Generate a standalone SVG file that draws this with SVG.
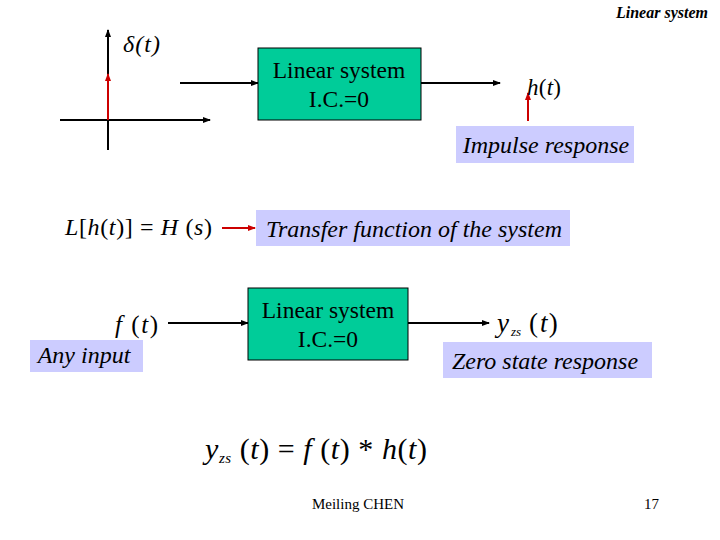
<svg xmlns="http://www.w3.org/2000/svg" width="720" height="540" viewBox="0 0 720 540">
<style>
.t{font-family:'Liberation Serif','Times New Roman','DejaVu Serif',serif;fill:#000}
.i{font-style:italic}
.bt{font-size:23.5px}
.lt{font-size:24px;font-style:italic}
.box{fill:#00CC99;stroke:#000;stroke-width:1}
.lab{fill:#CCCCFF}
.ln{stroke:#000;stroke-width:2;fill:none}
.rd{stroke:#CC0000;stroke-width:2;fill:none}
</style>
<defs>
<marker id="ak" markerWidth="8" markerHeight="6" refX="7" refY="3" orient="auto" markerUnits="userSpaceOnUse"><path d="M0,0 L8,3 L0,6 Z" fill="#000"/></marker>
<marker id="ar" markerWidth="8" markerHeight="6" refX="7" refY="3" orient="auto" markerUnits="userSpaceOnUse"><path d="M0,0 L8,3 L0,6 Z" fill="#CC0000"/></marker>
</defs>
<text class="t i" x="708" y="18" font-size="16" font-weight="bold" text-anchor="end">Linear system</text>
<g id="axes">
<line class="ln" x1="108" y1="150" x2="108" y2="30" marker-end="url(#ak)"/>
<line class="ln" x1="60" y1="120" x2="210" y2="120" marker-end="url(#ak)"/>
<line class="rd" x1="108" y1="120" x2="108" y2="74" marker-end="url(#ar)"/>
<text class="t i" x="123" y="52" font-size="24" textLength="37" lengthAdjust="spacing">δ(t)</text>
</g>
<g id="connectors">
<line class="ln" x1="180" y1="83" x2="258" y2="83" marker-end="url(#ak)"/>
<line class="ln" x1="421" y1="83" x2="500" y2="83" marker-end="url(#ak)"/>
<line class="rd" x1="528" y1="121" x2="528" y2="93" marker-end="url(#ar)"/>
<line class="rd" x1="222" y1="228" x2="255" y2="228" marker-end="url(#ar)"/>
<line class="ln" x1="168" y1="323" x2="248" y2="323" marker-end="url(#ak)"/>
<line class="ln" x1="408" y1="323" x2="489" y2="323" marker-end="url(#ak)"/>
</g>
<g id="sys1">
<rect class="box" x="258" y="48" width="163" height="72"/>
<text class="t bt" x="339" y="78" text-anchor="middle">Linear system</text>
<text class="t bt" x="339" y="107" text-anchor="middle">I.C.=0</text>
</g>
<text class="t" x="527" y="95" font-size="23" textLength="34" lengthAdjust="spacing"><tspan font-style="italic">h</tspan>(<tspan font-style="italic">t</tspan>)</text>
<g id="impulse">
<rect class="lab" x="456" y="126" width="178" height="37"/>
<text class="t lt" x="546" y="153" text-anchor="middle">Impulse response</text>
</g>
<text class="t" x="65" y="235" font-size="24" textLength="147" lengthAdjust="spacing"><tspan font-style="italic">L</tspan>[<tspan font-style="italic">h</tspan>(<tspan font-style="italic">t</tspan>)] = <tspan font-style="italic">H</tspan> (<tspan font-style="italic">s</tspan>)</text>
<g id="transfer">
<rect class="lab" x="256" y="210" width="314" height="36"/>
<text class="t lt" x="414" y="237" text-anchor="middle">Transfer function of the system</text>
</g>
<text class="t" x="115" y="333" font-size="25" textLength="43" lengthAdjust="spacing"><tspan font-style="italic">f</tspan> (<tspan font-style="italic">t</tspan>)</text>
<g id="anyinput">
<rect class="lab" x="30" y="340" width="113" height="32"/>
<text class="t lt" x="84" y="363" text-anchor="middle">Any input</text>
</g>
<g id="sys2">
<rect class="box" x="248" y="288" width="160" height="72"/>
<text class="t bt" x="328" y="318" text-anchor="middle">Linear system</text>
<text class="t bt" x="328" y="347" text-anchor="middle">I.C.=0</text>
</g>
<text class="t" x="497" y="332" font-size="27"><tspan font-style="italic">y</tspan><tspan font-style="italic" font-size="13" dy="4" dx="2">zs</tspan><tspan dy="-4" dx="8">(</tspan><tspan font-style="italic" dx="2">t</tspan><tspan dx="1">)</tspan></text>
<g id="zsr">
<rect class="lab" x="443" y="342" width="209" height="36"/>
<text class="t lt" x="545" y="369" text-anchor="middle">Zero state response</text>
</g>
<text class="t" x="205" y="459" font-size="30" textLength="222" lengthAdjust="spacing"><tspan font-style="italic">y</tspan><tspan font-style="italic" font-size="15" dy="4">zs</tspan><tspan dy="-4"> (</tspan><tspan font-style="italic">t</tspan>) = <tspan font-style="italic">f</tspan> (<tspan font-style="italic">t</tspan>) * <tspan font-style="italic">h</tspan>(<tspan font-style="italic">t</tspan>)</text>
<text class="t" x="358" y="509" font-size="15" text-anchor="middle">Meiling CHEN</text>
<text class="t" x="659" y="509" font-size="15" text-anchor="end">17</text>
</svg>
